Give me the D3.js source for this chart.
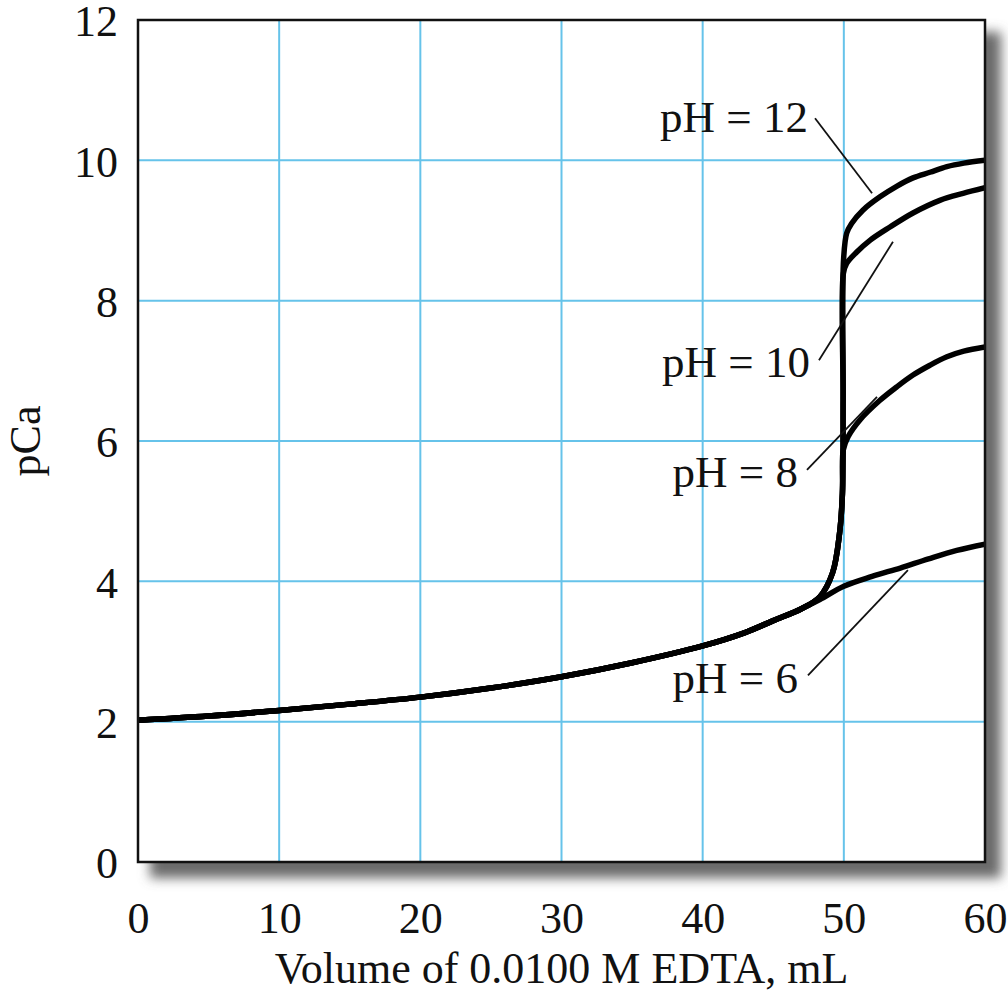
<!DOCTYPE html>
<html>
<head>
<meta charset="utf-8">
<script src="https://cdn.jsdelivr.net/npm/d3@7"></script>
<style>
  html, body { margin: 0; padding: 0; background: #fff; }
  svg { display: block; }
  text { font-family: "Liberation Serif", "Times New Roman", serif; fill: #111; }
</style>
</head>
<body>
<svg id="chart" width="1008" height="1001"></svg>
<script>
// ---------- data ----------
const xTicks = [0, 10, 20, 30, 40, 50, 60];
const yTicks = [0, 2, 4, 6, 8, 10, 12];
const xTitle = "Volume of 0.0100 M EDTA, mL";
const yTitle = "pCa";

// shared early part of all curves (Ca excess region)
const common = [[0,2.02],[5,2.08],[10,2.16],[15,2.25],[20,2.35],[25,2.48],[30,2.64],[35,2.84],[40,3.08],[43,3.27],[45,3.44],[47,3.61]];

const pH6  = common.concat([[48.3,3.74],[50,3.93],[52,4.07],[54,4.19],[56,4.32],[58,4.44],[60,4.53]]);
const steep = [[48.3,3.78],[49.2,4.12],[49.7,4.69],[49.9,5.25]];
const pH8  = common.concat(steep, [[49.96,5.87],[50.3,6.06],[51.14,6.3],[52.56,6.58],[53.74,6.77],[54.9,6.94],[56.1,7.08],[57.3,7.2],[58.5,7.28],[60,7.34]]);
const pH10 = common.concat(steep, [[49.95,6.6],[49.97,8.39],[50.2,8.53],[50.9,8.69],[51.85,8.86],[53.27,9.05],[54.9,9.25],[56.8,9.43],[58.45,9.53],[60,9.61]]);
const pH12 = common.concat(steep, [[49.95,6.6],[49.98,8.58],[50.2,8.96],[50.55,9.1],[51.35,9.29],[52.56,9.48],[53.74,9.63],[54.9,9.75],[56.1,9.83],[57.3,9.91],[58.5,9.96],[60,10.0]]);

const seriesNames = ["pH = 6", "pH = 8", "pH = 10", "pH = 12"];
const seriesData = [pH6, pH8, pH10, pH12];

// label anchors (data units): text end point and leader line
const labelText = ["pH = 12", "pH = 10", "pH = 8", "pH = 6"];
const labelAt   = [[47.46,10.40],[47.6,6.91],[46.75,5.34],[46.75,2.41]];
const leaderFrom = [[47.96,10.60],[48.24,7.15],[47.39,5.59],[47.46,2.66]];
const leaderTo   = [[52.0,9.53],[53.48,8.84],[52.35,6.63],[54.54,4.16]];

// ---------- chart ----------
const svg = d3.select("#chart");
const L = 138, R = 985, T = 20, B = 862;
const FS = 44;
const x = d3.scaleLinear().domain([0, 60]).range([L, R]);
const y = d3.scaleLinear().domain([0, 12]).range([B, T]);

const defs = svg.append("defs");
const f = defs.append("filter").attr("id", "shadow").attr("x", "-10%").attr("y", "-10%").attr("width", "130%").attr("height", "130%");
f.append("feGaussianBlur").attr("stdDeviation", 6);

// drop shadow
svg.append("rect")
  .attr("x", L + 12).attr("y", T + 12)
  .attr("width", R - L + 4).attr("height", B - T + 4)
  .attr("fill", "#6a6a6a").attr("filter", "url(#shadow)");

svg.append("rect")
  .attr("x", L).attr("y", T).attr("width", R - L).attr("height", B - T)
  .attr("fill", "#fff");

// grid
const grid = svg.append("g").attr("stroke", "#66c3ea").attr("stroke-width", 2);
grid.selectAll("line.v").data(xTicks.slice(1, -1)).join("line")
  .attr("x1", d => x(d)).attr("x2", d => x(d)).attr("y1", T).attr("y2", B);
grid.selectAll("line.h").data(yTicks.slice(1, -1)).join("line")
  .attr("y1", d => y(d)).attr("y2", d => y(d)).attr("x1", L).attr("x2", R);

// axes (labels via d3 axes, no tick marks)
const xAxis = svg.append("g").attr("transform", `translate(0,${B})`)
  .call(d3.axisBottom(x).tickValues(xTicks).tickSize(0).tickPadding(41).tickFormat(d3.format("d")));
const yAxis = svg.append("g").attr("transform", `translate(${L},0)`)
  .call(d3.axisLeft(y).tickValues(yTicks).tickSize(0).tickPadding(20).tickFormat(d3.format("d")));
[xAxis, yAxis].forEach(a => {
  a.select(".domain").remove();
  a.selectAll("text").style("font-family", '"Liberation Serif", serif').style("font-size", FS + "px").attr("fill", "#111");
});
yAxis.selectAll("text").attr("dy", "0.36em");
xAxis.selectAll("text").attr("dy", "0.68em");

// curves
const line = d3.line().x(d => x(d[0])).y(d => y(d[1])).curve(d3.curveCatmullRom.alpha(0.5));
const clip = defs.append("clipPath").attr("id", "plotclip");
clip.append("rect").attr("x", L).attr("y", T - 5).attr("width", R - L).attr("height", B - T + 10);
svg.append("g").attr("clip-path", "url(#plotclip)")
  .selectAll("path").data(seriesData).join("path")
  .attr("d", line)
  .attr("fill", "none").attr("stroke", "#000").attr("stroke-width", 5.5)
  .attr("stroke-linejoin", "round").attr("stroke-linecap", "round");

// frame
svg.append("rect")
  .attr("x", L).attr("y", T).attr("width", R - L).attr("height", B - T)
  .attr("fill", "none").attr("stroke", "#111").attr("stroke-width", 2.5);

// labels
const lab = svg.append("g");
lab.selectAll("line").data(labelText).join("line")
  .attr("x1", (d, i) => x(leaderFrom[i][0])).attr("y1", (d, i) => y(leaderFrom[i][1]))
  .attr("x2", (d, i) => x(leaderTo[i][0])).attr("y2", (d, i) => y(leaderTo[i][1]))
  .attr("stroke", "#111").attr("stroke-width", 1.8);
lab.selectAll("text").data(labelText).join("text")
  .attr("x", (d, i) => x(labelAt[i][0])).attr("y", (d, i) => y(labelAt[i][1]))
  .attr("text-anchor", "end").style("font-size", "45px")
  .text(d => d);

// axis titles
svg.append("text")
  .attr("x", (L + R) / 2).attr("y", 983)
  .attr("text-anchor", "middle").style("font-size", FS + "px")
  .text(xTitle);
svg.append("text")
  .attr("transform", `translate(40,${(T + B) / 2}) rotate(-90)`)
  .attr("text-anchor", "middle").style("font-size", FS + "px")
  .text(yTitle);
</script>
</body>
</html>
